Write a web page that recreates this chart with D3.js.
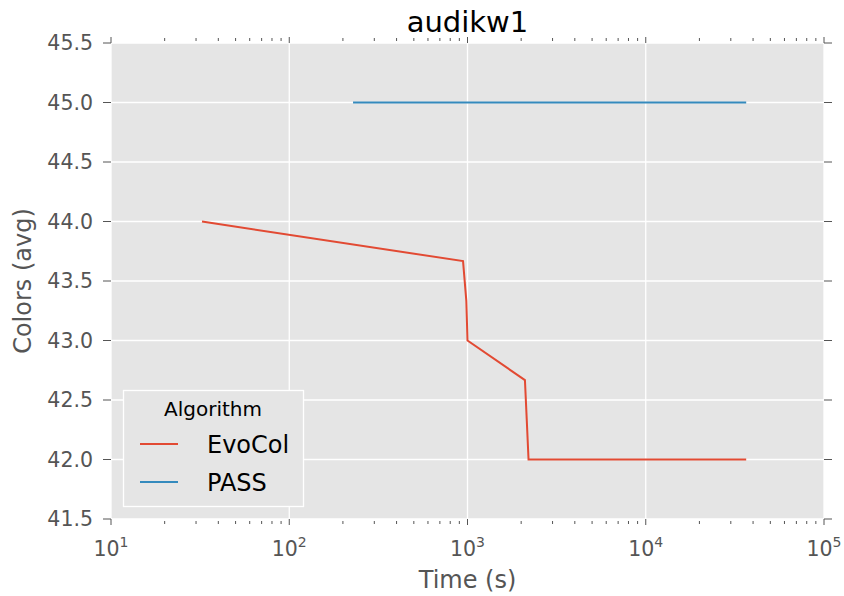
<!DOCTYPE html>
<html><head><meta charset="utf-8">
<script src="https://cdn.jsdelivr.net/npm/d3@7"></script>
<style>body{margin:0;background:#fff;} svg{display:block;font-family:"DejaVu Sans",sans-serif;}</style>
</head><body><svg id="c" width="844" height="596"></svg>
<script>
const seriesNames = ["EvoCol", "PASS"];
const evoColTime = [32.4, 944, 985, 1000, 2100, 2150, 2200, 36600];
const evoColColors = [44.0, 43.667, 43.333, 43.0, 42.667, 42.333, 42.0, 42.0];
const passTime = [228, 36600];
const passColors = [45.0, 45.0];
const yTicks = [41.5, 42.0, 42.5, 43.0, 43.5, 44.0, 44.5, 45.0, 45.5];
const xTicks = [1e1, 1e2, 1e3, 1e4, 1e5];
const colors = ["#E24A33", "#348ABD"];

const W = 844, H = 596, m = {l:111, t:43, r:20, b:77};
const svg = d3.select("#c");
const x = d3.scaleLog().domain([1e1, 1e5]).range([m.l, W - m.r]);
const y = d3.scaleLinear().domain([41.5, 45.5]).range([H - m.b, m.t]);
const tickCol = "#555";

svg.append("rect").attr("x", m.l).attr("y", m.t).attr("width", W-m.l-m.r).attr("height", H-m.t-m.b).attr("fill", "#E5E5E5");

// grid
svg.append("g").selectAll("line").data(yTicks).join("line")
  .attr("x1", m.l).attr("x2", W-m.r).attr("y1", d=>y(d)).attr("y2", d=>y(d))
  .attr("stroke", "#fff").attr("stroke-width", 1.3);
svg.append("g").selectAll("line").data(xTicks).join("line")
  .attr("y1", m.t).attr("y2", H-m.b).attr("x1", d=>x(d)).attr("x2", d=>x(d))
  .attr("stroke", "#fff").attr("stroke-width", 1.3);

// minor x ticks
const minor = [];
for (let e = 1; e < 5; e++) for (let k = 2; k <= 9; k++) minor.push(k * Math.pow(10, e));

const tg = svg.append("g").attr("stroke", tickCol).attr("stroke-width", 1);
tg.selectAll(".yl").data(yTicks).join("line").attr("class","yl").attr("x1", m.l-8).attr("x2", m.l).attr("y1", d=>y(d)).attr("y2", d=>y(d));
tg.selectAll(".yr").data(yTicks).join("line").attr("class","yr").attr("x1", W-m.r).attr("x2", W-m.r+8).attr("y1", d=>y(d)).attr("y2", d=>y(d));
tg.selectAll(".xb").data(xTicks).join("line").attr("class","xb").attr("x1", d=>x(d)).attr("x2", d=>x(d)).attr("y1", H-m.b).attr("y2", H-m.b+6);
tg.selectAll(".xt").data(xTicks).join("line").attr("class","xt").attr("x1", d=>x(d)).attr("x2", d=>x(d)).attr("y1", m.t).attr("y2", m.t-6);
tg.selectAll(".mb").data(minor).join("line").attr("class","mb").attr("x1", d=>x(d)).attr("x2", d=>x(d)).attr("y1", H-m.b+2).attr("y2", H-m.b+5);
tg.selectAll(".mt").data(minor).join("line").attr("class","mt").attr("x1", d=>x(d)).attr("x2", d=>x(d)).attr("y1", m.t-2).attr("y2", m.t-5);

svg.append("g").selectAll("text").data(yTicks).join("text")
  .attr("x", m.l-18).attr("y", d=>y(d)).attr("dy", "0.36em").attr("text-anchor", "end")
  .attr("font-size", 20.5).attr("fill", tickCol).text(d=>d.toFixed(1));
const xl = svg.append("g").selectAll("text").data(xTicks).join("text")
  .attr("x", d=>x(d)).attr("y", H-m.b+37).attr("text-anchor", "middle")
  .attr("font-size", 20.5).attr("fill", tickCol);
xl.append("tspan").text("10");
xl.append("tspan").attr("dy", -9).attr("font-size", 14).text(d=>Math.round(Math.log10(d)));

svg.append("text").attr("x", (m.l + W - m.r)/2).attr("y", 588).attr("text-anchor", "middle")
  .attr("font-size", 24).attr("fill", tickCol).text("Time (s)");
svg.append("text").attr("transform", `translate(31,${(m.t + H - m.b)/2}) rotate(-90)`).attr("text-anchor", "middle")
  .attr("font-size", 24).attr("fill", tickCol).text("Colors (avg)");
svg.append("text").attr("x", (m.l + W - m.r)/2).attr("y", 32).attr("text-anchor", "middle")
  .attr("font-size", 29).attr("fill", "#000").text("audikw1");

const line = d3.line().x(d=>x(d[0])).y(d=>y(d[1]));
const data = [d3.zip(evoColTime, evoColColors), d3.zip(passTime, passColors)];
svg.append("g").selectAll("path").data(data).join("path")
  .attr("d", line).attr("fill", "none").attr("stroke", (d,i)=>colors[i]).attr("stroke-width", 2);

const lg = svg.append("g");
lg.append("rect").attr("x", 123.5).attr("y", 390.5).attr("width", 180).attr("height", 116)
  .attr("fill", "#E5E5E5").attr("stroke", "#fff").attr("stroke-width", 1.3);
lg.append("text").attr("x", 213).attr("y", 416).attr("text-anchor", "middle").attr("font-size", 20).attr("fill", "#000").text("Algorithm");
seriesNames.forEach((n, i) => {
  const yy = 444 + i * 38;
  lg.append("line").attr("x1", 140).attr("x2", 178).attr("y1", yy).attr("y2", yy).attr("stroke", colors[i]).attr("stroke-width", 2);
  lg.append("text").attr("x", 207).attr("y", yy).attr("dy", "0.36em").attr("font-size", 24).attr("fill", "#000").text(n);
});
</script></body></html>
